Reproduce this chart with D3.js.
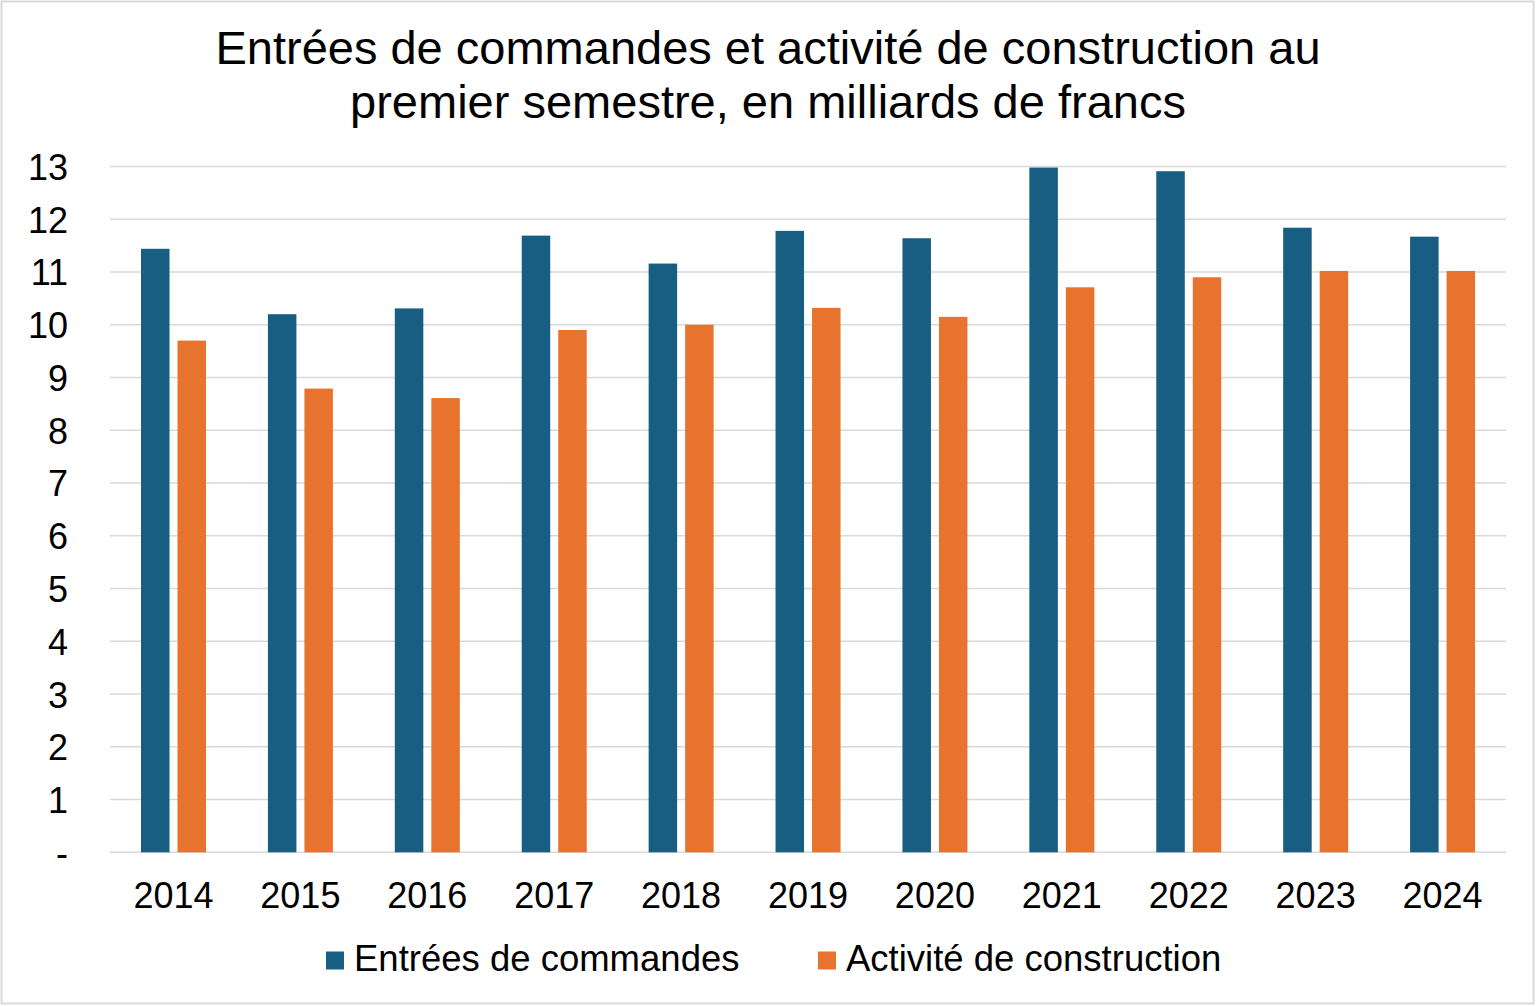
<!DOCTYPE html>
<html>
<head>
<meta charset="utf-8">
<script src="https://cdn.jsdelivr.net/npm/d3@7"></script>
<style>
  html, body { margin: 0; padding: 0; background: #fff; }
  svg { display: block; font-family: "Liberation Sans", Arial, sans-serif; }
</style>
</head>
<body>
<svg id="chart" width="1536" height="1006"></svg>
<script>
const years = ["2014","2015","2016","2017","2018","2019","2020","2021","2022","2023","2024"];
const seriesNames = ["Entrées de commandes", "Activité de construction"];
const entrees = [11.44, 10.20, 10.31, 11.69, 11.16, 11.78, 11.64, 12.98, 12.91, 11.84, 11.67];
const activite = [9.70, 8.79, 8.61, 9.90, 10.00, 10.32, 10.15, 10.71, 10.90, 11.02, 11.02];
const yTicks = [0,1,2,3,4,5,6,7,8,9,10,11,12,13];
const titleLines = ["Entrées de commandes et activité de construction au", "premier semestre, en milliards de francs"];
const colors = ["#175e82", "#e8732f"];

const svg = d3.select("#chart");
const W = 1536, H = 1006;

svg.append("rect").attr("x", 1.5).attr("y", 1.5).attr("width", W - 4).attr("height", H - 4)
  .attr("fill", "#fff").attr("stroke", "#d9d9d9").attr("stroke-width", 2);

const x0 = d3.scaleBand().domain(years).range([110, 1506]).padding(0);
const x1 = d3.scaleBand().domain(seriesNames).range([31, 96]).paddingInner(0.219).paddingOuter(0);
const y = d3.scaleLinear().domain([0, 13]).range([852.3, 166.5]);

// gridlines
svg.append("g").selectAll("line").data(yTicks).join("line")
  .attr("x1", 110).attr("x2", 1506)
  .attr("y1", d => y(d)).attr("y2", d => y(d))
  .attr("stroke", "#d9d9d9").attr("stroke-width", 1.5);

// y labels
const yAxis = d3.axisLeft(y).tickValues(yTicks).tickSize(0).tickPadding(0)
  .tickFormat(d => d === 0 ? "-" : String(d));
const gy = svg.append("g").attr("transform", "translate(68,0)").call(yAxis);
gy.select(".domain").remove();
gy.selectAll("text").attr("font-size", 36).attr("fill", "#000")
  .attr("font-family", "'Liberation Sans', Arial, sans-serif")
  .attr("dy", "0.36em");

// bars
const data = years.map((yr, i) => ({ year: yr, values: [entrees[i], activite[i]] }));
const groups = svg.append("g").selectAll("g").data(data).join("g")
  .attr("transform", d => `translate(${x0(d.year)},0)`);
groups.selectAll("rect").data(d => d.values.map((v, j) => ({ name: seriesNames[j], v, j })))
  .join("rect")
  .attr("x", d => x1(d.name))
  .attr("width", x1.bandwidth())
  .attr("y", d => y(d.v))
  .attr("height", d => y(0) - y(d.v))
  .attr("fill", d => colors[d.j]);

// x labels
const xAxis = d3.axisBottom(x0).tickSize(0).tickPadding(0);
const gx = svg.append("g").attr("transform", "translate(0,908)").call(xAxis);
gx.select(".domain").remove();
gx.selectAll("text").attr("font-size", 36).attr("fill", "#000")
  .attr("font-family", "'Liberation Sans', Arial, sans-serif")
  .attr("dy", 0).attr("y", 0);

// title
svg.append("text").attr("text-anchor", "middle").attr("font-size", 47).attr("fill", "#000")
  .selectAll("tspan").data(titleLines).join("tspan")
  .attr("x", 768).attr("y", (d, i) => 64 + i * 54).text(d => d);

// legend
const legendX = [326, 818];
const lg = svg.append("g").selectAll("g").data(seriesNames).join("g")
  .attr("transform", (d, i) => `translate(${legendX[i]},0)`);
lg.append("rect").attr("x", 0).attr("y", 951.5).attr("width", 18).attr("height", 18)
  .attr("fill", (d, i) => colors[i]);
lg.append("text").attr("x", 28).attr("y", 971).attr("font-size", 36.5).attr("fill", "#000").text(d => d);
</script>
</body>
</html>
